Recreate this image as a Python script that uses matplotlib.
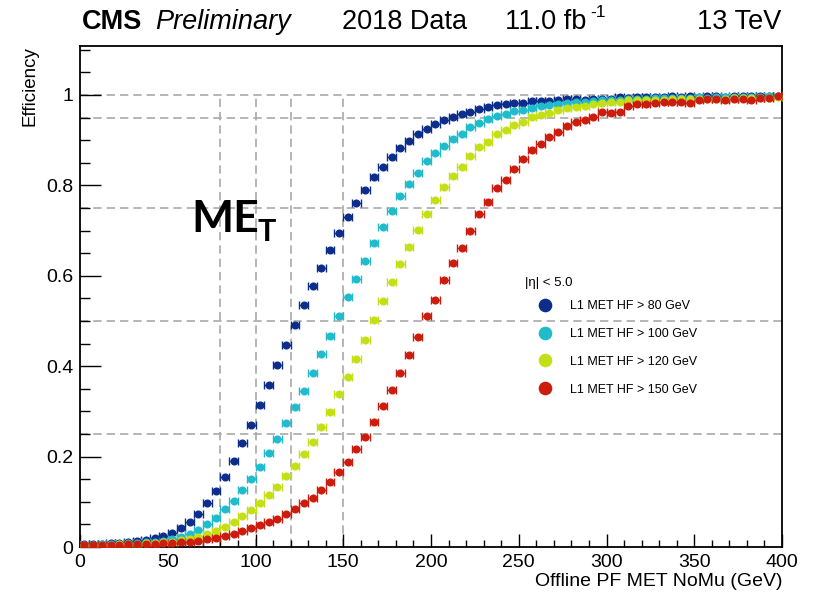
import matplotlib
matplotlib.use('Agg')
import matplotlib.pyplot as plt
import numpy as np
from matplotlib.ticker import MultipleLocator, FuncFormatter
from matplotlib.lines import Line2D

plt.rcParams['font.family'] = ['Liberation Sans', 'DejaVu Sans']

# ---------------- data ----------------
bin_width = 5.0
met_bins = np.arange(bin_width / 2, 400, bin_width)  # offline MET bin centres (GeV)

thresholds = [80, 100, 120, 150]
labels = ["L1 MET HF > 80 GeV", "L1 MET HF > 100 GeV",
          "L1 MET HF > 120 GeV", "L1 MET HF > 150 GeV"]
colors = ["#0c2d8a", "#20bccb", "#c5df17", "#cc1c0d"]

eff_80 = [0.006, 0.006, 0.007, 0.008, 0.009, 0.010, 0.013, 0.015, 0.019, 0.024,
          0.032, 0.043, 0.056, 0.074, 0.097, 0.124, 0.155, 0.190, 0.229, 0.271,
          0.314, 0.358, 0.403, 0.448, 0.492, 0.535, 0.577, 0.618, 0.656, 0.695,
          0.729, 0.760, 0.790, 0.819, 0.841, 0.863, 0.883, 0.898, 0.914, 0.925,
          0.935, 0.944, 0.952, 0.957, 0.963, 0.969, 0.973, 0.977, 0.979, 0.982,
          0.983, 0.986, 0.987, 0.987, 0.989, 0.991, 0.991, 0.990, 0.991, 0.992,
          0.992, 0.995, 0.994, 0.995, 0.996, 0.995, 0.996, 0.997, 0.996, 0.997,
          0.996, 0.997, 0.997, 0.996, 0.997, 0.998, 0.997, 0.997, 0.998, 0.998]

eff_100 = [0.005, 0.005, 0.006, 0.006, 0.007, 0.008, 0.009, 0.010, 0.012, 0.014,
           0.018, 0.023, 0.029, 0.038, 0.050, 0.065, 0.083, 0.102, 0.125, 0.150,
           0.178, 0.207, 0.238, 0.274, 0.309, 0.346, 0.386, 0.426, 0.467, 0.510,
           0.552, 0.592, 0.633, 0.673, 0.709, 0.744, 0.776, 0.802, 0.828, 0.853,
           0.871, 0.887, 0.903, 0.914, 0.929, 0.938, 0.946, 0.954, 0.958, 0.965,
           0.967, 0.972, 0.975, 0.977, 0.980, 0.982, 0.984, 0.985, 0.987, 0.989,
           0.989, 0.990, 0.991, 0.992, 0.992, 0.993, 0.993, 0.994, 0.993, 0.994,
           0.995, 0.994, 0.995, 0.995, 0.996, 0.995, 0.996, 0.996, 0.997, 0.997]

eff_120 = [0.004, 0.004, 0.005, 0.005, 0.006, 0.006, 0.007, 0.008, 0.009, 0.010,
           0.012, 0.015, 0.018, 0.023, 0.029, 0.036, 0.045, 0.055, 0.068, 0.082,
           0.098, 0.115, 0.133, 0.156, 0.179, 0.205, 0.233, 0.266, 0.299, 0.338,
           0.375, 0.416, 0.457, 0.502, 0.544, 0.586, 0.625, 0.664, 0.701, 0.737,
           0.768, 0.796, 0.821, 0.841, 0.865, 0.886, 0.897, 0.913, 0.923, 0.934,
           0.941, 0.951, 0.956, 0.961, 0.967, 0.972, 0.974, 0.976, 0.979, 0.982,
           0.984, 0.985, 0.989, 0.989, 0.989, 0.990, 0.990, 0.991, 0.991, 0.991,
           0.992, 0.992, 0.992, 0.992, 0.993, 0.993, 0.993, 0.994, 0.994, 0.996]

eff_150 = [0.004, 0.004, 0.004, 0.005, 0.005, 0.006, 0.006, 0.007, 0.007, 0.008,
           0.009, 0.010, 0.012, 0.014, 0.017, 0.020, 0.024, 0.029, 0.035, 0.041,
           0.048, 0.055, 0.063, 0.073, 0.083, 0.097, 0.109, 0.126, 0.143, 0.165,
           0.187, 0.216, 0.243, 0.276, 0.311, 0.348, 0.386, 0.425, 0.465, 0.511,
           0.546, 0.590, 0.628, 0.662, 0.700, 0.737, 0.764, 0.794, 0.813, 0.837,
           0.858, 0.879, 0.891, 0.908, 0.918, 0.932, 0.941, 0.945, 0.951, 0.962,
           0.961, 0.963, 0.976, 0.979, 0.980, 0.982, 0.984, 0.985, 0.985, 0.983,
           0.990, 0.992, 0.992, 0.988, 0.992, 0.992, 0.988, 0.993, 0.994, 0.998]

series = [eff_80, eff_100, eff_120, eff_150]
eff_refs = [0.25, 0.5, 0.75, 0.95, 1.0]

# ---------------- figure ----------------
W, H = 813, 595
fig = plt.figure(figsize=(W / 100, H / 100), dpi=100)
ax = fig.add_axes([80 / W, 48 / H, 702 / W, 501 / H])

grid_kw = dict(color="#a9a9a9", lw=1.2, ls=(0, (5, 3)), zorder=1)
for v in eff_refs:
    ax.axhline(v, **grid_kw)
ax.vlines(thresholds, 0, 1.0, **grid_kw)

for vals, c in zip(series, colors):
    ax.errorbar(met_bins, vals, xerr=bin_width / 2, fmt='o', color=c, ms=4.8,
                mec=c, elinewidth=1.0, capsize=2.6, capthick=1.0, zorder=3)

ax.set_xlim(0, 400)
ax.set_ylim(0, 1.1084)
ax.xaxis.set_major_locator(MultipleLocator(50))
ax.xaxis.set_minor_locator(MultipleLocator(10))
ax.yaxis.set_major_locator(MultipleLocator(0.2))
ax.yaxis.set_minor_locator(MultipleLocator(0.05))
ax.yaxis.set_major_formatter(FuncFormatter(lambda v, p: "%g" % round(v, 3)))
ax.tick_params(which='both', direction='in', top=False, right=False,
               labelsize=14, width=1.0, color='black')
ax.tick_params(axis='x', which='major', length=9.7, pad=5)
ax.tick_params(axis='x', which='minor', length=4.9)
ax.tick_params(axis='y', which='major', length=15, pad=5)
ax.tick_params(axis='y', which='minor', length=7.5)
for s in ax.spines.values():
    s.set_linewidth(1.3)

# axis titles (ROOT style, aligned to the axis end)
fig.text(782 / W, (H - 586) / H, "Offline PF MET NoMu (GeV)", ha='right',
         va='baseline', fontsize=14)
fig.text(30 / W, (H - 46) / H, "Efficiency", rotation=90, ha='center',
         va='top', fontsize=13.5)

# header
ty = (H - 29) / H
fig.text(82 / W, ty, "CMS", fontsize=19.5, fontweight='bold', va='baseline')
fig.text(155 / W, ty, "Preliminary", fontsize=19.5, style='italic', va='baseline')
fig.text(342 / W, ty, "2018 Data", fontsize=19.5, va='baseline')
fig.text(505 / W, ty, "11.0 fb", fontsize=19.5, va='baseline')
fig.text(590 / W, (H - 17) / H, "-1", fontsize=12.5, va='baseline')
fig.text(781 / W, ty, "13 TeV", fontsize=19.5, va='baseline', ha='right')

# big ME_T label
ax.text(63.5, 0.697, "ME", fontsize=32, fontweight='bold', family='Lato',
        va='baseline', ha='left')
ax.text(101.0, 0.678, "T", fontsize=22, fontweight='bold', family='Lato',
        va='baseline', ha='left')

# legend
fig.text(525 / W, (H - 283) / H, "|η| < 5.0", fontsize=9.5, va='center', ha='left')
handles = [Line2D([], [], marker='o', ls='', color=c, ms=8.8) for c in colors]
ax.legend(handles, labels, loc='upper left', bbox_to_anchor=(525 / W, (H - 300) / H),
          bbox_transform=fig.transFigure, frameon=False, fontsize=9,
          borderpad=0, borderaxespad=0, handlelength=3.2, handletextpad=0.4,
          labelspacing=1.27)

fig.savefig("out.png", dpi=100)
